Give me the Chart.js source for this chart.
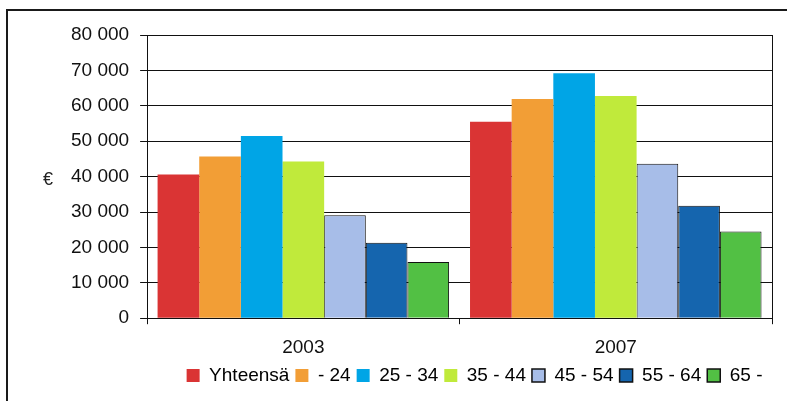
<!DOCTYPE html>
<html>
<head>
<meta charset="utf-8">
<script src="https://cdn.jsdelivr.net/npm/chart.js@4"></script>
<style>
  html, body { margin: 0; padding: 0; background: #ffffff; }
  #wrap { position: relative; width: 787px; height: 401px; overflow: hidden; }
  #frame { position: absolute; left: 6px; top: 9px; width: 900px; height: 500px;
           border-left: 2px solid #1a1a1a; border-top: 2px solid #1a1a1a; box-sizing: border-box; }
  canvas { position: absolute; left: 0; top: 0; }
</style>
</head>
<body>
<div id="wrap">
  <div id="frame"></div>
  <canvas id="c" width="787" height="401"></canvas>
</div>
<script>
const categories = ['2003', '2007'];
const seriesNames = ['Yhteensä', '- 24', '25 - 34', '35 - 44', '45 - 54', '55 - 64', '65 -'];
const yhteensa = [40600, 55500];
const age_24 = [45700, 61900];
const age25_34 = [51500, 69200];
const age35_44 = [44300, 62800];
const age45_54 = [29100, 43600];
const age55_64 = [21300, 31800];
const age65 = [15900, 24500];
const yTicks = [0, 10000, 20000, 30000, 40000, 50000, 60000, 70000, 80000];
const yUnit = '€';

const seriesValues = [yhteensa, age_24, age25_34, age35_44, age45_54, age55_64, age65];
const colors = ['#DA3434', '#F29E36', '#00A5E6', '#C0EA3B', '#A7BDE8', '#1565AE', '#52C044'];
const bordered = [false, false, false, false, true, true, true];
const FONT = '"Liberation Sans", Arial, sans-serif';

function fmt(n) {
  return String(n).replace(/\B(?=(\d{3})+(?!\d))/g, ' ');
}

const unitPlugin = {
  id: 'unitLabel',
  afterLayout(chart) {
    const ca = chart.chartArea;
    const lg = chart.legend;
    lg.left = ca.left + 30;
    lg.right = ca.right;
    lg.top -= 11;
    lg.bottom -= 11;
  },
  afterDraw(chart) {
    const ctx = chart.ctx;
    const y = chart.scales.y;
    ctx.save();
    ctx.font = '18px ' + FONT;
    ctx.fillStyle = '#222';
    ctx.textAlign = 'center';
    ctx.textBaseline = 'middle';
    ctx.fillText(yUnit, y.left - 12, (chart.chartArea.top + chart.chartArea.bottom) / 2 + 3);
    ctx.restore();
  }
};

new Chart(document.getElementById('c'), {
  type: 'bar',
  data: {
    labels: categories,
    datasets: seriesNames.map((name, i) => ({
      label: name,
      data: seriesValues[i],
      backgroundColor: colors[i],
      borderColor: bordered[i] ? '#111' : colors[i],
      borderWidth: bordered[i] ? 1 : 0,
      categoryPercentage: 0.933,
      barPercentage: 1.0
    }))
  },
  options: {
    responsive: false,
    animation: false,
    devicePixelRatio: 1,
    layout: { padding: { left: 60, right: 15, top: 35, bottom: -5 } },
    plugins: {
      tooltip: { enabled: false },
      legend: {
        position: 'bottom',
        labels: {
          boxWidth: 13,
          boxHeight: 13,
          padding: 6,
          color: '#111',
          font: { family: FONT, size: 19 },
          generateLabels(chart) {
            return chart.data.datasets.map((ds, i) => ({
              text: ds.label,
              fillStyle: ds.backgroundColor,
              strokeStyle: bordered[i] ? '#111' : ds.backgroundColor,
              lineWidth: bordered[i] ? 1.5 : 0,
              datasetIndex: i,
              hidden: false
            }));
          }
        }
      }
    },
    scales: {
      x: {
        grid: {
          offset: true,
          color: ctx => ctx.index === 1 ? 'rgba(0,0,0,0)' : '#111',
          tickColor: '#111',
          tickLength: 6,
          lineWidth: 1
        },
        border: { color: '#111', width: 1 },
        ticks: {
          color: '#111',
          padding: 12,
          font: { family: FONT, size: 19 }
        }
      },
      y: {
        min: 0,
        max: 80000,
        afterBuildTicks(scale) {
          scale.ticks = yTicks.map(v => ({ value: v }));
        },
        grid: { color: '#111', tickColor: '#111', tickLength: 7, lineWidth: 1 },
        border: { color: '#111', width: 1 },
        ticks: {
          color: '#111',
          padding: 11,
          font: { family: FONT, size: 19 },
          callback: v => fmt(v)
        }
      }
    }
  },
  plugins: [unitPlugin]
});
</script>
</body>
</html>
